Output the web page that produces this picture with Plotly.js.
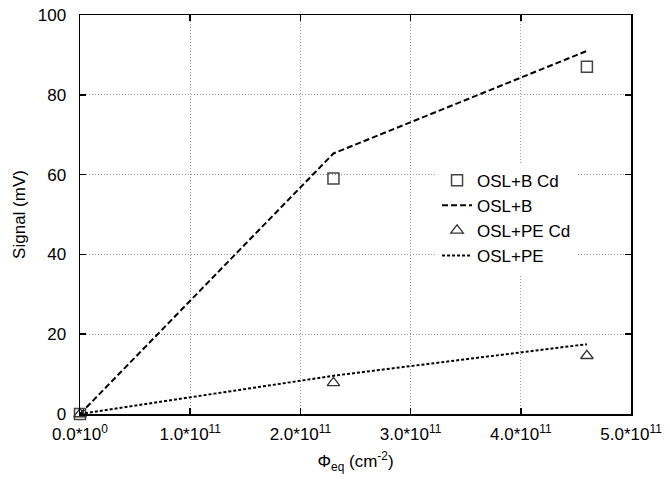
<!DOCTYPE html>
<html>
<head>
<meta charset="utf-8">
<script src="https://cdn.plot.ly/plotly-3.0.1.min.js"></script>
<style>html,body{margin:0;padding:0;background:#fff;}#chart{width:670px;height:480px;}</style>
</head>
<body>
<div id="chart"></div>
<script>
const fluence = [0, 2.3e11, 4.6e11];
const oslBCd = [0, 59, 87];
const oslB = [0, 65.3, 91];
const oslPECd = [0, 7.8, 14.6];
const oslPE = [0, 9.6, 17.5];
const xTickVals = [0, 1e11, 2e11, 3e11, 4e11, 5e11];
const xTickText = ['0.0*10<sup>0</sup>', '1.0*10<sup>11</sup>', '2.0*10<sup>11</sup>', '3.0*10<sup>11</sup>', '4.0*10<sup>11</sup>', '5.0*10<sup>11</sup>'];
const yTickVals = [0, 20, 40, 60, 80, 100];

const font = {family: '"Liberation Sans", Arial, sans-serif', size: 17, color: '#000'};

const traces = [
  {x: fluence, y: oslBCd, name: 'OSL+B Cd', mode: 'markers', type: 'scatter', cliponaxis: false,
   marker: {symbol: 'square-open', size: 11, color: '#444', line: {width: 1.5, color: '#444'}}},
  {x: fluence, y: oslB, name: 'OSL+B', mode: 'lines', type: 'scatter',
   line: {color: '#000', width: 2, dash: '6px,3px'}},
  {x: fluence, y: oslPECd, name: 'OSL+PE Cd', mode: 'markers', type: 'scatter', cliponaxis: false,
   marker: {symbol: 'triangle-up-open', size: 11, color: '#333', line: {width: 1.3, color: '#333'}}},
  {x: fluence, y: oslPE, name: 'OSL+PE', mode: 'lines', type: 'scatter',
   line: {color: '#000', width: 2, dash: '3px,2px'}}
];

const layout = {
  width: 670, height: 480,
  margin: {l: 80, r: 39, t: 15, b: 66},
  paper_bgcolor: '#fff', plot_bgcolor: '#fff',
  font: font,
  showlegend: true,
  legend: {x: 0.648, y: 0.63, xanchor: 'left', yanchor: 'top', bgcolor: '#fff',
           font: {family: font.family, size: 17, color: '#000'}, tracegroupgap: 0, itemwidth: 30},
  xaxis: {
    range: [0, 5e11], tickmode: 'array', tickvals: xTickVals, ticktext: xTickText,
    showgrid: true, gridcolor: '#999', griddash: '1px,2px', gridwidth: 1,
    zeroline: false, showline: true, linecolor: '#000', linewidth: 1.5, mirror: 'ticks',
    ticks: 'inside', ticklen: 6, tickcolor: '#000', tickwidth: 1.5,
    tickfont: font, ticklabelstandoff: 4,
    title: {text: 'Φ<sub>eq</sub> (cm<sup>-2</sup>)', font: font, standoff: 12}
  },
  yaxis: {
    range: [0, 100], tickmode: 'array', tickvals: yTickVals,
    showgrid: true, gridcolor: '#999', griddash: '1px,2px', gridwidth: 1,
    zeroline: false, showline: true, linecolor: '#000', linewidth: 1.5, mirror: 'ticks',
    ticks: 'inside', ticklen: 6, tickcolor: '#000', tickwidth: 1.5,
    tickfont: font, ticklabelstandoff: 9,
    title: {text: 'Signal (mV)', font: font, standoff: 8}
  }
};

Plotly.newPlot('chart', traces, layout, {displayModeBar: false, staticPlot: true});
</script>
</body>
</html>
